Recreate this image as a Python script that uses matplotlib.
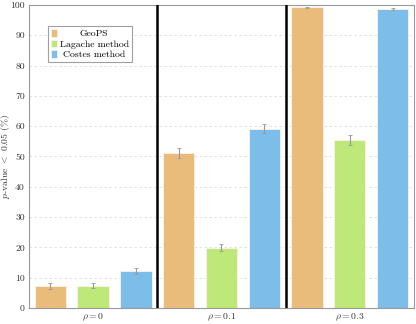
import matplotlib
matplotlib.use("Agg")
import matplotlib.pyplot as plt
import numpy as np

groups = [r"$\rho = 0$", r"$\rho = 0.1$", r"$\rho = 0.3$"]
methods = ["GeoPS", "Lagache method", "Costes method"]
values = {
    "GeoPS": [7.2, 51.2, 99.2],
    "Lagache method": [7.4, 19.9, 55.5],
    "Costes method": [12.3, 59.2, 98.7],
}
errors = {
    "GeoPS": [0.9, 1.7, 0.3],
    "Lagache method": [0.9, 1.2, 1.7],
    "Costes method": [1.0, 1.6, 0.3],
}
colors = ["#E9BC7C", "#BEE87A", "#7DBDE9"]
yticks = list(range(0, 101, 10))

plt.rcParams["font.family"] = "serif"
plt.rcParams["font.serif"] = ["cmr10", "DejaVu Serif"]
plt.rcParams["mathtext.fontset"] = "cm"
plt.rcParams["axes.unicode_minus"] = False

fig = plt.figure(figsize=(4.16, 3.24), dpi=100)
ax = fig.add_axes([0.0697, 0.0494, 0.9253, 0.9352])

offsets = [1/6, 1/2, 5/6]
width = 0.245
for m, (meth, col) in enumerate(zip(methods, colors)):
    xs = np.arange(len(groups)) + offsets[m]
    ax.bar(xs, values[meth], width=width, color=col, edgecolor="#FBF3E6", linewidth=0.6,
           label=meth, zorder=2)
    ax.errorbar(xs, values[meth], yerr=errors[meth], fmt="none", ecolor="#999999",
                elinewidth=0.8, capsize=1.5, capthick=0.6, zorder=3)

for sep in [1, 2]:
    ax.axvline(sep, color="black", linewidth=1.8, zorder=4)

ax.set_xlim(0, 3)
ax.set_ylim(0, 100)
ax.set_yticks(yticks)
ax.set_yticklabels([str(t) for t in yticks])
ax.set_xticks(np.arange(len(groups)) + 0.5)
ax.set_xticklabels(groups)
ax.tick_params(axis="both", length=0, labelsize=7, pad=3, colors="#333333")
ax.yaxis.grid(True, linestyle=(0, (3, 3)), color="#DDDDDD", linewidth=0.6, zorder=0)
ax.set_axisbelow(True)
for s in ax.spines.values():
    s.set_color("#999999")
    s.set_linewidth(0.8)

ax.set_ylabel(r"$p$-value $<$ 0.05 (%)", fontsize=7, color="#333333")
ax.yaxis.set_label_coords(-0.045, 0.5)

leg = ax.legend(loc="upper left", bbox_to_anchor=(0.049, 0.93), borderaxespad=0,
                fontsize=7, frameon=True,
                fancybox=False, edgecolor="#888888", handlelength=0.6, handleheight=0.8,
                handletextpad=0.3, borderpad=0.3, labelspacing=0.15)
leg.get_frame().set_linewidth(0.8)

fig.canvas.draw()
r = fig.canvas.get_renderer()
texts = leg.get_texts()
ws = [t.get_window_extent(r).width for t in texts]
W = max(ws)
for t, w in zip(texts, ws):
    t.set_x((W - w) / 2)

fig.savefig("out.png", dpi=100)
